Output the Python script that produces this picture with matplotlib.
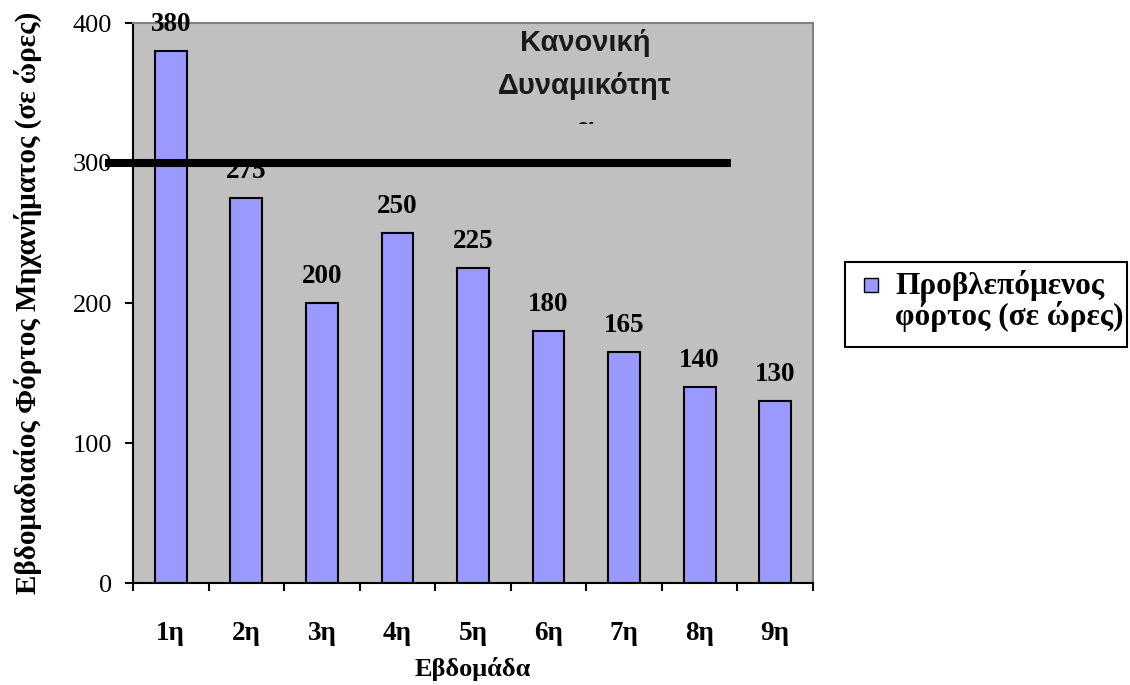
import numpy as np
import matplotlib
matplotlib.use("Agg")
import matplotlib.pyplot as plt
from matplotlib.patches import Rectangle

weeks = ["1η", "2η", "3η", "4η", "5η", "6η", "7η", "8η", "9η"]
load_hours = [380, 275, 200, 250, 225, 180, 165, 140, 130]
capacity = 300
capacity_span = [-0.87, 7.42]
legend_label = "Προβλεπόμενος\nφόρτος (σε ώρες)"

serif = ["Liberation Serif", "DejaVu Serif"]
sans = ["Liberation Sans", "DejaVu Sans"]
bar_color = "#9999FF"

W, H = 1130, 685
fig = plt.figure(figsize=(W / 100, H / 100), dpi=100)
ax = fig.add_axes([133 / W, 1 - 583 / H, 680 / W, 560 / H])
ax.set_facecolor("#C0C0C0")

x = np.arange(len(weeks))
ax.bar(x, load_hours, width=0.42, color=bar_color, edgecolor="black",
       linewidth=1.5, zorder=2)

# value labels over the bars
for xi, v in zip(x, load_hours):
    ax.annotate(str(v), (xi, v), xytext=(0, 14.5), textcoords="offset points",
                ha="center", va="baseline", fontsize=19.5, fontweight="bold",
                family=serif, zorder=3)

# capacity line, runs past the left axis
ax.plot(capacity_span, [capacity, capacity], color="black", lw=5.8,
        solid_capstyle="butt", clip_on=False, zorder=5)

ax.set_xlim(-0.5, len(weeks) - 0.5)
ax.set_ylim(0, 400)
ax.set_yticks([0, 100, 200, 300, 400])
ax.set_yticklabels(["0", "100", "200", "300", "400"], family=serif, fontsize=19)
ax.tick_params(axis="y", direction="out", length=6, width=1.5, pad=9)

# boundary ticks on x, labels centred on categories
ax.set_xticks(np.arange(-0.5, len(weeks)), labels=[""] * (len(weeks) + 1))
ax.set_xticks(x, minor=True)
ax.set_xticklabels(weeks, minor=True, family=serif, fontsize=19.5, fontweight="bold")
ax.tick_params(axis="x", which="major", direction="out", length=6, width=1.5)
ax.tick_params(axis="x", which="minor", length=0, pad=27)

for side in ["left", "bottom"]:
    ax.spines[side].set_color("black")
    ax.spines[side].set_linewidth(1.5)
for side in ["top", "right"]:
    ax.spines[side].set_color("#808080")
    ax.spines[side].set_linewidth(1.5)

ax.set_xlabel("Εβδομάδα", family=serif, fontsize=19, fontweight="bold", labelpad=8)
ax.set_ylabel("Εβδομαδιαίος Φόρτος Μηχανήματος (σε ώρες)", family=serif,
              fontsize=21, fontweight="bold", labelpad=22)

# text box for the capacity line; last line is cut off by the box
box_clip = Rectangle((450, H - 124), 300, 124, transform=None)
cap_text = fig.text(585 / W, 1 - 29 / H, "Κανονική\nΔυναμικότητ\nα",
                    ha="center", va="top", family=sans, fontsize=21,
                    fontweight="bold", linespacing=1.7, color="#1a1a1a")
cap_text.set_clip_path(box_clip)
cap_text.set_clip_on(True)

# legend box drawn in figure coordinates
fig.patches.append(Rectangle((845 / W, 1 - 347 / H), 282 / W, 85 / H,
                             transform=fig.transFigure, facecolor="white",
                             edgecolor="black", lw=1.5))
fig.patches.append(Rectangle((864 / W, 1 - 292 / H), 14 / W, 14 / H,
                             transform=fig.transFigure, facecolor=bar_color,
                             edgecolor="black", lw=1))
fig.text(895 / W, 1 - 270 / H, legend_label, ha="left", va="top",
         family=serif, fontsize=22.5, fontweight="bold", linespacing=1.0)

fig.savefig("out.png", dpi=100, facecolor="white")
